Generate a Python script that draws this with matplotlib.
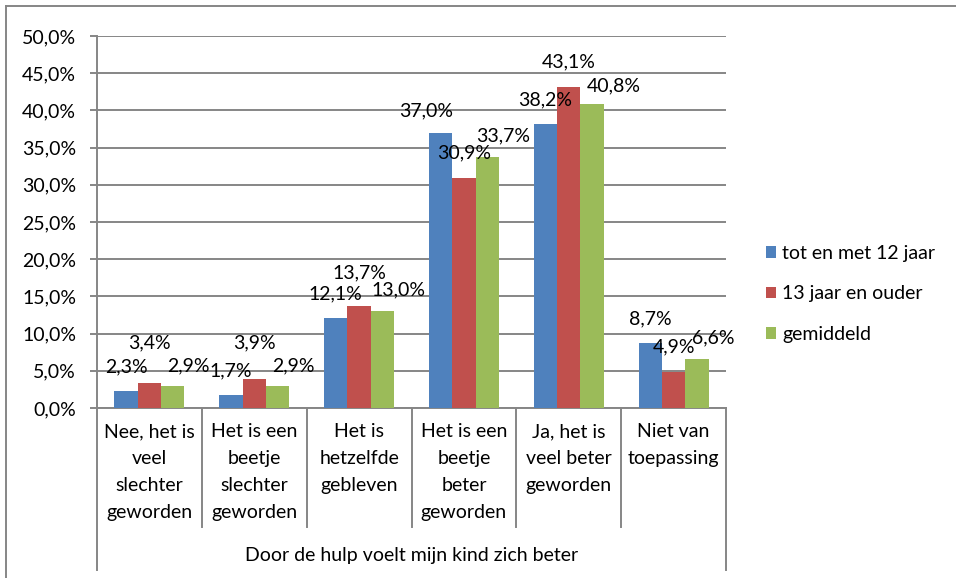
import matplotlib.pyplot as plt
import matplotlib.transforms as mtransforms
from matplotlib.lines import Line2D
from matplotlib.patches import Patch
import numpy as np

plt.rcParams["font.family"] = ["Lato", "DejaVu Sans"]

# data
categories = [
    "Nee, het is\nveel\nslechter\ngeworden",
    "Het is een\nbeetje\nslechter\ngeworden",
    "Het is\nhetzelfde\ngebleven",
    "Het is een\nbeetje\nbeter\ngeworden",
    "Ja, het is\nveel beter\ngeworden",
    "Niet van\ntoepassing",
]
group_label = "Door de hulp voelt mijn kind zich beter"
series_names = ["tot en met 12 jaar", "13 jaar en ouder", "gemiddeld"]
tot_12 = [2.3, 1.7, 12.1, 37.0, 38.2, 8.7]
vanaf_13 = [3.4, 3.9, 13.7, 30.9, 43.1, 4.9]
gemiddeld = [2.9, 2.9, 13.0, 33.7, 40.8, 6.6]
y_ticks = [0, 5, 10, 15, 20, 25, 30, 35, 40, 45, 50]

colors = ["#4F81BD", "#C0504D", "#9BBB59"]
grid_col = "#868686"
FS = 14
PX = 0.72  # points per pixel at dpi 100

# label placement (pixels): default offset per series, plus a few nudges like in the original
label_offset = [(0, 24), (0, 25), (16, 21)]
label_nudge = {(1, 0): (0, 15), (1, 1): (0, 11), (1, 2): (0, 8), (0, 3): (-14, -2), (2, 4): (6, -2)}


def pct(v):
    return f"{v:.1f}%".replace(".", ",")


fig = plt.figure(figsize=(9.56, 5.78), dpi=100)
W, H = 956, 578
ax = fig.add_axes([97 / W, 1 - 408 / H, (726 - 97) / W, (408 - 36) / H])

x = np.arange(len(categories))
bw = 0.223
all_series = [tot_12, vanaf_13, gemiddeld]
for i, vals in enumerate(all_series):
    xs = x + (i - 1) * bw
    ax.bar(xs, vals, width=bw, color=colors[i], zorder=3)
    for j, v in enumerate(vals):
        dx, dy = label_offset[i]
        ndx, ndy = label_nudge.get((i, j), (0, 0))
        ax.annotate(pct(v), (xs[j], v), xytext=((dx + ndx) * PX, (dy + ndy) * PX),
                    textcoords="offset points", ha="center", va="center",
                    fontsize=FS, color="black", zorder=4)

ax.set_xlim(-0.5, len(categories) - 0.5)
ax.set_ylim(0, 50)
ax.set_yticks(y_ticks)
ax.set_yticklabels([pct(t) for t in y_ticks], fontsize=FS)
ax.yaxis.grid(True, color=grid_col, linewidth=1.4, zorder=0)
ax.tick_params(axis="y", length=5, width=1.4, color=grid_col, pad=10)
ax.set_xticks([])
for s in ["top", "right"]:
    ax.spines[s].set_visible(False)
for s in ["left", "bottom"]:
    ax.spines[s].set_color(grid_col)
    ax.spines[s].set_linewidth(1.4)

# multi-level category axis
trans = mtransforms.blended_transform_factory(ax.transData, ax.transAxes)
ax_h = 408 - 36
for k in range(len(categories) + 1):
    edge = k - 0.5
    outer = k in (0, len(categories))
    y_end = -(570 - 408) / ax_h if outer else -(527 - 408) / ax_h
    ax.plot([edge, edge], [0, y_end], transform=trans, color=grid_col,
            linewidth=1.4, clip_on=False)
for j, lab in enumerate(categories):
    ax.text(x[j], -(423 - 408) / ax_h, lab, transform=trans, ha="center", va="top",
            fontsize=FS, linespacing=1.72)
ax.text((len(categories) - 1) / 2, -(555 - 408) / ax_h, group_label, transform=trans,
        ha="center", va="center", fontsize=FS)

# legend
handles = [Patch(facecolor=c, edgecolor="none") for c in colors]
fig.legend(handles, series_names, loc="center left", bbox_to_anchor=(748 / W, 1 - 294 / H),
           frameon=False, fontsize=FS, handlelength=0.55, handleheight=0.55,
           handletextpad=0.3, labelspacing=1.2)

# outer chart border (cropped at right and bottom)
fig.add_artist(Line2D([6 / W, 1.01], [1 - 6 / H, 1 - 6 / H], color=grid_col, linewidth=1.4))
fig.add_artist(Line2D([6 / W, 6 / W], [1 - 6 / H, -0.01], color=grid_col, linewidth=1.4))

fig.savefig("out.png", dpi=100, facecolor="white")
